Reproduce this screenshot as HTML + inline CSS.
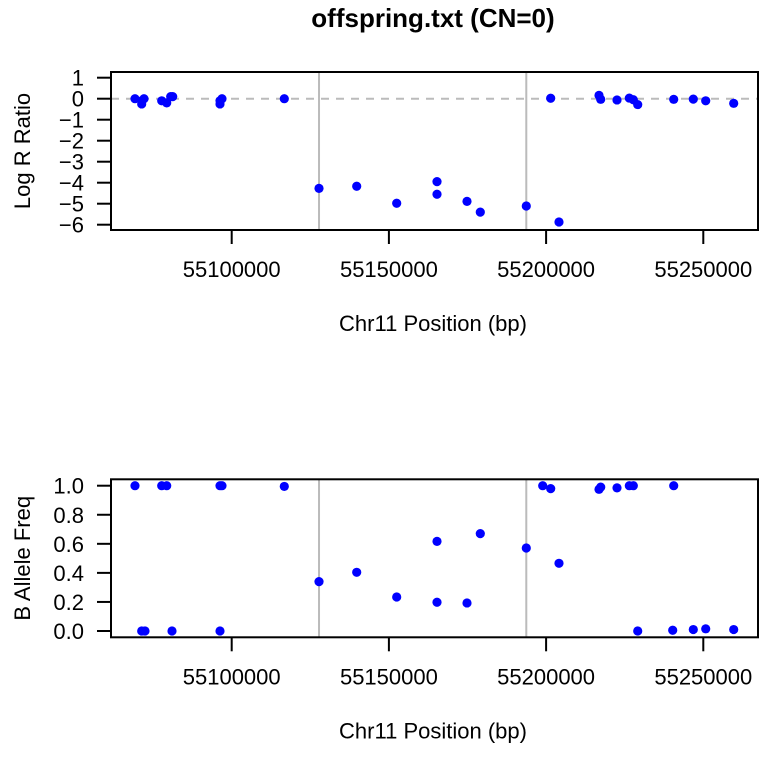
<!DOCTYPE html>
<html><head><meta charset="utf-8"><style>
body{margin:0;background:#fff}
svg text{font-family:"Liberation Sans",sans-serif}
</style></head><body>
<svg id="c" width="782" height="754" xmlns="http://www.w3.org/2000/svg"></svg>
<script>
const lrrPos=[55069240,55071370,55071370,55072100,55077740,55079330,55080600,55081230,55096280,55096280,55096910,55116730,55127770,55139760,55152480,55165300,55165300,55174840,55179070,55193700,55204100,55201460,55216830,55217370,55222550,55226470,55227740,55229140,55240590,55246820,55250770,55259670];
const lrrVal=[0,-0.1,-0.25,0,-0.1,-0.2,0.1,0.1,-0.25,-0.1,0,0,-4.27,-4.17,-4.98,-3.95,-4.55,-4.89,-5.4,-5.11,-5.87,0.02,0.16,-0.03,-0.06,0.03,-0.05,-0.28,-0.03,-0.02,-0.1,-0.22];
const bafPos=[55069240,55071370,55072420,55077740,55079330,55081010,55096280,55096280,55096910,55116730,55127770,55139760,55152480,55165300,55165300,55174840,55179070,55193700,55204100,55198920,55201460,55216830,55217370,55222550,55226470,55227740,55229140,55240590,55240270,55246820,55250770,55259670];
const bafVal=[1,0,0,1,1,0,1,0,1,0.995,0.34,0.404,0.234,0.617,0.198,0.193,0.67,0.571,0.466,1,0.98,0.975,0.99,0.985,1,1,0,1,0.005,0.01,0.015,0.01];
const xTicks=[55100000,55150000,55200000,55250000];
const lrrTicks=[1,0,-1,-2,-3,-4,-5,-6];
const bafTicks=[0,0.2,0.4,0.6,0.8,1.0];
const bounds=[55127770,55193700];

const svg=document.getElementById('c');
const NS='http://www.w3.org/2000/svg';
function mk(t,a,p){const e=document.createElementNS(NS,t);for(const k in a)e.setAttribute(k,a[k]);(p||svg).appendChild(e);return e;}
const X=p=>231.7+(p-55100000)*157.2/50000;
function panel(off,yFn,ticks,fmt,pos,val,ytitle,name,dashed){
  const g=mk('g',{});
  
  
  if(dashed){const d=mk('line',{x1:111,x2:758,y1:yFn(0),y2:yFn(0),stroke:'#bbb','stroke-width':2,'stroke-dasharray':'8,7'},g);
    }
  bounds.forEach(b=>{const l=mk('line',{x1:X(b),x2:X(b),y1:72+off,y2:230+off,stroke:'#bbb','stroke-width':2},g);
    });
  pos.forEach((p,i)=>{const c=mk('circle',{cx:X(p),cy:yFn(val[i]),r:4.6,fill:'#0000ff'},g);
    });
  const b=mk('rect',{x:111,y:72+off,width:647,height:158,fill:'none',stroke:'#000','stroke-width':2},g);
  
  ticks.forEach(t=>{const y=yFn(t);mk('line',{x1:97,x2:111,y1:y,y2:y,stroke:'#000','stroke-width':2},g);
    const tx=mk('text',{x:84,y:y+8,'text-anchor':'end','font-size':22},g);tx.textContent=fmt(t);
    });
  xTicks.forEach(t=>{const x=X(t);mk('line',{x1:x,x2:x,y1:230+off,y2:244+off,stroke:'#000','stroke-width':2},g);
    const tx=mk('text',{x:x,y:277+off,'text-anchor':'middle','font-size':22},g);tx.textContent=t;
    });
  const xt=mk('text',{x:433,y:331+off,'text-anchor':'middle','font-size':22},g);xt.textContent='Chr11 Position (bp)';
  
  const cy=151+off;
  const yt=mk('text',{x:30,y:cy,'text-anchor':'middle','font-size':22,transform:`rotate(-90 30 ${cy})`},g);yt.textContent=ytitle;
  
}
const tt=mk('text',{x:433,y:27,'text-anchor':'middle','font-size':26,'font-weight':'bold'});tt.textContent='offspring.txt (CN=0)';

panel(0,v=>98.7-21*v,lrrTicks,t=>t<0?'\u2212'+(-t):String(t),lrrPos,lrrVal,'Log R Ratio','lrr',true);
panel(407.3,v=>631-145.3*v,bafTicks,t=>t.toFixed(1),bafPos,bafVal,'B Allele Freq','baf',false);
</script>
</body></html>
